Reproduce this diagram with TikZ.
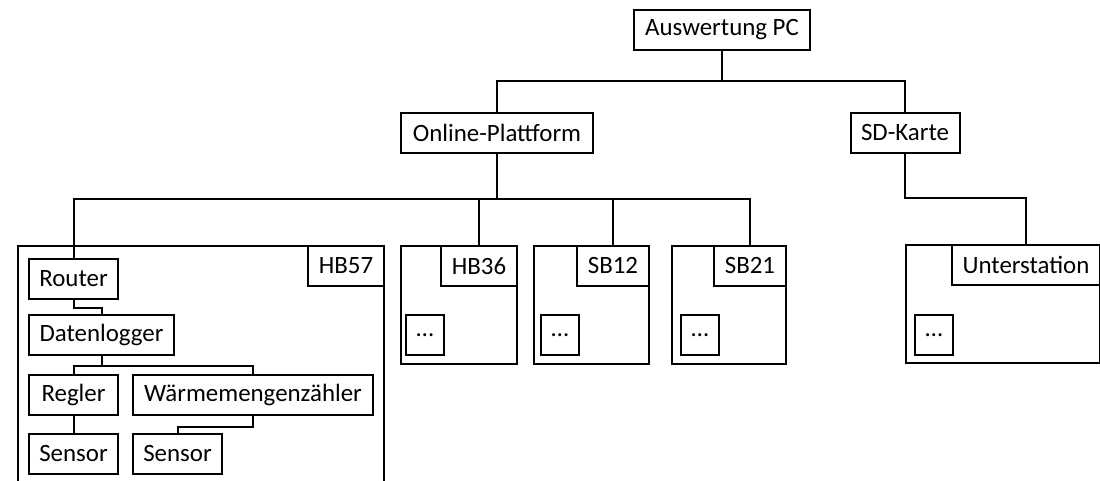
\documentclass[tikz,border=0pt]{standalone}
\usepackage{fontspec}
\setmainfont{Carlito}
\usetikzlibrary{positioning}

\tikzset{
  box/.style={draw, rectangle, minimum height=40pt, inner sep=0pt, fill=white},
  station/.style={draw, rectangle, anchor=north west, inner sep=0pt, minimum height=118pt},
  stationname/.style={box, anchor=north east},
  dots/.style={box, minimum width=38pt}
}

\begin{document}
\begin{tikzpicture}[x=1pt, y=-1pt, line width=2pt, font=\fontsize{24.9}{30}\selectfont]
        \useasboundingbox (0,0) rectangle (1100,481);
        \clip (0,0) rectangle (1100,481);

        \node[box, minimum width=176pt] (pc) at (722,30) {Auswertung PC};
        \node[box, minimum width=192pt] (online) at (497,133) {Online-Plattform};
        \node[box, minimum width=109pt] (sd) at (905,133) {SD-Karte};

        \node[station, minimum width=366pt, minimum height=260pt] (hb57) at (17,245) {};
        \node[stationname, minimum width=76pt] (hb57name) at (hb57.north east) {HB57};

        \node[station, minimum width=116pt] (hb36) at (400,245) {};
        \node[stationname, minimum width=76pt] (hb36name) at (hb36.north east) {HB36};
        \node[dots, above right=9pt and 5pt of hb36.south west] (hb36dots) {\dots};

        \node[station, minimum width=115pt] (sb12) at (533,245) {};
        \node[stationname, minimum width=72pt] (sb12name) at (sb12.north east) {SB12};
        \node[dots, above right=9pt and 7pt of sb12.south west] (sb12dots) {\dots};

        \node[station, minimum width=114pt] (sb21) at (671,245) {};
        \node[stationname, minimum width=72pt] (sb21name) at (sb21.north east) {SB21};
        \node[dots, above right=9pt and 9pt of sb21.south west] (sb21dots) {\dots};

        \node[station, minimum width=194pt] (unter) at (905,244) {};
        \node[stationname, minimum width=148pt] (untername) at (unter.north east) {Unterstation};
        \node[dots, above right=8pt and 9pt of unter.south west] (unterdots) {\dots};

        % inside HB57
        \node[box, anchor=north west, minimum width=89pt] (router) at (28,258) {Router};
        \node[box, anchor=north west, minimum width=145pt] (logger) at (28,314) {Datenlogger};
        \node[box, anchor=north west, minimum width=89pt] (regler) at (28,374) {Regler};
        \node[box, anchor=north west, minimum width=240pt] (wmz) at (132,374) {Wärmemengenzähler};
        \node[box, anchor=north west, minimum width=89pt] (sensorA) at (28,433) {Sensor};
        \node[box, anchor=north west, minimum width=89pt] (sensorB) at (132,433) {Sensor};

        \coordinate (pcbus) at (722,81);
        \coordinate (webbus) at (497,199);
        \coordinate (sdbus) at (905,198);

        \draw (pc) -- (pcbus);
        \draw (online) |- (pcbus) -| (sd);

        \draw (online) -- (webbus);
        \draw (router) |- (webbus) -| (sb21name);
        \draw (hb36name) -- (hb36name |- webbus);
        \draw (sb12name) -- (sb12name |- webbus);

        \draw (sd) -- (sdbus) -| (untername);

        \draw (router.south) -- ++(0,8) -| (logger);
        \draw (logger.south) -- ++(0,10) coordinate (loggerbus);
        \draw (regler) |- (loggerbus) -| (wmz);
        \draw (regler) -- (sensorA);
        \draw (wmz.south) -- ++(0,11) -| (sensorB);
      \end{tikzpicture}
\end{document}
